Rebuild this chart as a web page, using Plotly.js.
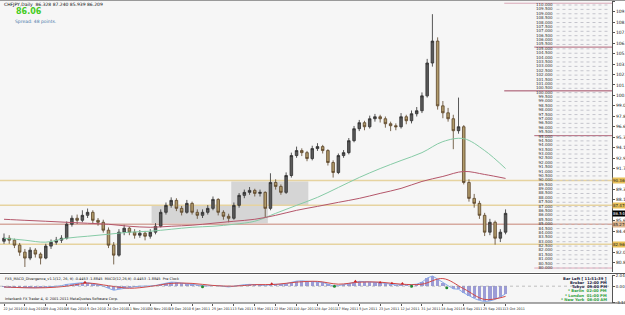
<!DOCTYPE html>
<html><head><meta charset="utf-8">
<script src="https://cdn.plot.ly/plotly-3.0.1.min.js"></script>
<style>html,body{margin:0;padding:0;background:#fff}#c{width:625px;height:315px}</style>
</head><body><div id="c"></div>
<script>
// ---- data (bar index: 1 unit = 1 daily bar, one candle every 4 bars) ----
const barIndex = [0,4,8,12,16,20,24,28,32,36,40,44,48,52,56,60,64,68,72,76,80,84,88,92,96,100,104,108,112,116,120,124,128,132,136,140,144,148,152,156,160,164,168,172,176,180,184,188,192,196,200,204,208,212,216,220,224,228,232,236,240,244,248,252,256,260,264,268,272,276,280,284,288,292,296,300,304,308,312,316,320,324,328,332,336,340,344,348,352,356,360,364,368,372,376,380,384];
const openP = [83.3,83.65,83.42,82.84,82.03,81.34,82.26,81.80,81.34,82.73,
  83.19,83.42,83.65,85.27,85.97,85.73,86.31,86.66,85.73,85.50,
  84.58,82.84,81.68,84.35,84.81,84.35,84.00,84.23,83.88,84.35,
  85.04,86.66,87.47,88.05,87.12,86.66,87.70,86.66,86.31,86.66,
  87.12,88.16,86.66,86.20,85.97,87.47,88.63,88.98,89.21,88.86,
  88.98,87.12,90.13,89.67,88.98,90.94,93.26,93.84,93.60,92.91,
  94.07,94.30,93.84,92.45,91.29,93.26,93.60,94.99,96.38,97.08,
  96.61,97.54,97.77,97.54,96.96,96.73,96.61,97.77,97.31,98.12,
  98.47,100.20,104.02,106.57,99.04,98.23,97.54,96.15,96.61,90.13,
  88.28,87.70,86.31,84.35,85.50,83.65,84.35];
const highP = [84.2,84.0,83.6,83.1,82.4,82.6,82.5,82.0,83.0,83.5,
  83.8,84.0,85.6,86.3,86.4,86.9,87.1,86.9,86.0,85.8,
  84.9,83.2,84.7,85.2,85.0,84.7,84.6,84.5,84.7,85.4,
  87.0,87.8,88.4,88.3,87.4,88.1,87.9,87.0,87.0,87.5,
  88.5,88.3,86.9,86.5,87.8,88.9,89.3,89.6,89.4,89.3,
  89.1,91.2,90.5,89.9,91.3,93.6,94.3,94.1,93.8,94.4,
  94.7,94.5,94.0,92.7,93.5,93.9,95.3,96.7,97.4,97.3,
  97.9,98.1,98.0,97.8,97.2,97.0,98.2,98.0,98.5,98.9,
  100.6,104.5,109.7,107.0,99.6,98.8,98.0,100.0,96.8,90.5,
  88.8,88.0,86.6,85.9,85.7,84.7,87.0];
const lowP = [83.0,83.0,82.5,81.6,80.3,81.1,81.4,80.6,81.2,82.4,
  82.9,83.1,83.5,85.0,85.3,85.5,86.0,85.4,85.1,84.3,
  82.5,80.6,81.5,84.0,84.0,83.6,83.7,83.4,83.6,84.1,
  84.9,86.4,87.2,86.8,86.3,86.5,86.4,85.9,86.0,86.4,
  86.9,86.3,85.8,85.5,85.8,87.2,88.3,88.7,88.5,88.5,
  86.1,86.9,89.3,88.7,88.8,90.7,93.0,93.2,92.6,92.7,
  93.8,93.5,92.1,90.7,91.1,93.0,93.4,94.8,96.1,96.2,
  96.4,97.2,97.1,96.5,96.1,96.2,96.4,96.9,97.0,97.8,
  98.2,100.0,103.6,98.6,97.6,97.2,94.0,95.8,89.9,87.9,
  87.2,85.9,83.9,84.0,82.9,83.2,84.1];
const closeP = [83.65,83.42,82.84,82.03,81.34,82.26,81.80,81.34,82.73,83.19,
  83.42,83.65,85.27,85.97,85.73,86.31,86.66,85.73,85.50,84.58,
  82.84,81.68,84.35,84.81,84.35,84.00,84.23,83.88,84.35,85.04,
  86.66,87.47,88.05,87.12,86.66,87.70,86.66,86.31,86.66,87.12,
  88.16,86.66,86.20,85.97,87.47,88.63,88.98,89.21,88.86,88.98,
  87.12,90.13,89.67,88.98,90.94,93.26,93.84,93.60,92.91,94.07,
  94.30,93.84,92.45,91.29,93.26,93.60,94.99,96.38,97.08,96.61,
  97.54,97.77,97.54,96.96,96.73,96.61,97.77,97.31,98.12,98.47,
  100.20,104.02,106.57,99.04,98.23,97.54,96.15,96.61,90.13,88.28,
  87.70,86.31,84.35,85.50,83.65,84.35,86.54];

const labelIndex = [0,16,32,48,64,80,96,112,128,144,160,176,192,208,224,240,256,272,288,304,320,336,352,368,384];
const dateLabels = ["22 Jul 2010","10 Aug 2010","29 Aug 2010","16 Sep 2010","5 Oct 2010","24 Oct 2010","11 Nov 2010","30 Nov 2010","19 Dec 2010","6 Jan 2011","25 Jan 2011","13 Feb 2011","3 Mar 2011","22 Mar 2011","10 Apr 2011","28 Apr 2011","17 May 2011","5 Jun 2011","23 Jun 2011","12 Jul 2011","31 Jul 2011","18 Aug 2011","6 Sep 2011","25 Sep 2011","13 Oct 2011"];

const maGreen = [83.65,83.42,83.19,83.65,83.88,84.11,84.35,84.46,84.69,84.92,85.04,85.27,85.62,86.54,87.47,88.40,89.55,90.71,91.75,92.68,93.60,94.88,95.22,93.84,91.75];
const maRed = [85.85,85.73,85.62,85.50,85.39,85.27,85.04,84.92,85.04,85.16,85.39,85.62,85.85,86.31,86.89,87.35,87.82,88.28,88.86,89.44,90.25,90.83,91.41,91.06,90.60];

const macdMain = [-0.2,-0.25,-0.3,-0.3,-0.35,-0.3,-0.3,-0.3,-0.2,-0.1,
  0.0,0.1,0.35,0.5,0.6,0.7,0.7,0.55,0.3,0.0,
  -0.4,-0.8,-0.6,-0.4,-0.2,-0.1,0.0,0.0,0.05,0.15,
  0.4,0.6,0.8,0.75,0.6,0.5,0.35,0.2,0.1,0.05,
  0.15,0.1,-0.05,-0.15,0.0,0.2,0.3,0.35,0.35,0.3,
  0.1,0.35,0.4,0.35,0.5,0.8,1.0,1.05,1.0,0.95,
  0.9,0.75,0.4,0.05,0.1,0.3,0.6,0.85,0.95,0.9,
  0.85,0.8,0.7,0.55,0.4,0.25,0.3,0.25,0.3,0.4,
  0.8,1.6,2.0,1.4,0.7,0.1,-0.5,-0.6,-1.3,-1.9,
  -2.4,-2.8,-3.0,-2.9,-2.6,-2.1,-1.5];
const macdSignal = [-0.15,-0.3,-0.3,0.0,0.6,0.1,-0.4,-0.05,0.55,0.55,0.15,0.0,0.3,0.35,0.8,0.95,0.4,0.8,0.8,0.4,0.4,1.5,-0.5,-2.6,-2.0];
const redMarkIdx = [62,205,269,288,297,305];
const redMarkVal = [0.8,0.5,0.95,0.75,0.6,0.55];
const greenMarkIdx = [152,253,312,339];
const greenMarkVal = [-0.1,0.0,0.0,-0.3];

// right-axis price labels (those hidden under the highlighted level boxes are left out)
const priceTicks = [79.6,80.815,82.03,84.46,85.675,88.105,89.32,91.75,92.965,94.18,95.395,96.61,97.825,99.04,100.255,101.47,102.685,103.9,105.115,106.33,107.545,108.76,109.975,111.19];
const ladder = [110,109.5,109,108.5,108,107.5,107,106.5,106,105.5,105,104.5,104,103.5,103,102.5,102,101.5,101,100.5,100,99.5,99,98.5,98,97.5,97,96.5,96,95.5,95,94.5,94,93.5,93,92.5,92,91.5,91,90.5,90,89.5,89,88.5,88,87.5,87,86.5,86,85.5,85,84.5,84,83.5,83,82.5,82,81.5,81,80.5,80];
const fullLevels = [90.36,87.47,85.27,82.96];
const fullLevelColors = ['#e6d3a0','#e6d3a0','#d6aaa0','#e6d3a0'];
const rightLevels = [110.97,105.87,100.78,95.57,80.18];
const rightLevelStart = [383,406,383,406,406];
const rightLevelColors = ['#d9a8b8','#b06478','#a04862','#b06478','#e2a8b8'];
const boxA = {x0:113, x1:202, y0:85.39, y1:87.47};
const boxB = {x0:174, x1:233, y0:87.47, y1:90.25};

// ---- geometry helpers ----
const W = 625, H = 315, ML = 0, MR = 13, MT = 1, MB = 12;
const PW = W - ML - MR, PH = H - MT - MB;
const px = x => (x - ML) / PW;
const py = y => (H - MB - y) / PH;
const XR = [-3.06, 465.5];

const traces = [];
traces.push({type:'candlestick', x:barIndex, open:openP, high:highP, low:lowP, close:closeP,
  xaxis:'x', yaxis:'y', hoverinfo:'skip',
  increasing:{line:{color:'#2e2e2e', width:0.8}, fillcolor:'#5a5a5a'},
  decreasing:{line:{color:'#5a4428', width:0.8}, fillcolor:'#b09a6a'},
  whiskerwidth:0});
traces.push({type:'scatter', mode:'lines', x:labelIndex, y:maGreen, line:{color:'#86cba6', width:1, shape:'spline'}, xaxis:'x', yaxis:'y', hoverinfo:'skip'});
traces.push({type:'scatter', mode:'lines', x:labelIndex, y:maRed, line:{color:'#b4566a', width:1, shape:'spline'}, xaxis:'x', yaxis:'y', hoverinfo:'skip'});
// ladder labels + dotted guide lines
const lx = [], ly = [];
ladder.forEach(v => { lx.push(423, 464, null); ly.push(v, v, null); });
traces.push({type:'scatter', mode:'lines', x:lx, y:ly, xaxis:'x', yaxis:'y3', line:{color:'#c4c4cc', width:1, dash:'dot'}, hoverinfo:'skip', connectgaps:false});
traces.push({type:'scatter', mode:'text', x:ladder.map(() => 420), y:ladder, text:ladder.map(v => v.toFixed(3)),
  textposition:'middle left', textfont:{size:4, color:'#333', family:'DejaVu Sans'}, xaxis:'x', yaxis:'y3', hoverinfo:'skip', cliponaxis:false});
// MACD
traces.push({type:'bar', x:barIndex, y:macdMain, width:2.6, marker:{color:'#9c9cd6', line:{width:0}}, xaxis:'x', yaxis:'y2', hoverinfo:'skip'});
traces.push({type:'scatter', mode:'lines', x:barIndex, y:macdMain, line:{color:'#86a8e8', width:1}, xaxis:'x', yaxis:'y2', hoverinfo:'skip'});
traces.push({type:'scatter', mode:'lines', x:labelIndex, y:macdSignal, line:{color:'#d04848', width:1, shape:'spline'}, xaxis:'x', yaxis:'y2', hoverinfo:'skip'});
traces.push({type:'scatter', mode:'markers', x:redMarkIdx, y:redMarkVal, marker:{color:'#cc2222', size:3, symbol:'triangle-up'}, xaxis:'x', yaxis:'y2', hoverinfo:'skip'});
traces.push({type:'scatter', mode:'markers', x:greenMarkIdx, y:greenMarkVal, marker:{color:'#208a30', size:3}, xaxis:'x', yaxis:'y2', hoverinfo:'skip'});

const shapes = [];
shapes.push({type:'rect', xref:'x', yref:'y', x0:boxA.x0, x1:boxA.x1, y0:boxA.y0, y1:boxA.y1, fillcolor:'#cfcfcf', opacity:0.85, line:{width:0}, layer:'below'});
shapes.push({type:'rect', xref:'x', yref:'y', x0:boxB.x0, x1:boxB.x1, y0:boxB.y0, y1:boxB.y1, fillcolor:'#cfcfcf', opacity:0.85, line:{width:0}, layer:'below'});
fullLevels.forEach((v,i) => shapes.push({type:'line', xref:'x', yref:'y', x0:XR[0], x1:XR[1], y0:v, y1:v, line:{color:fullLevelColors[i], width:1.5}, layer:'below'}));
rightLevels.forEach((v,i) => shapes.push({type:'line', xref:'x', yref:'y', x0:rightLevelStart[i], x1:XR[1], y0:v, y1:v, line:{color:rightLevelColors[i], width:1}, layer:'below'}));
shapes.push({type:'line', xref:'x', yref:'y2', x0:XR[0], x1:XR[1], y0:0, y1:0, line:{color:'#9a9a9a', width:0.6, dash:'dot'}});
// separator between panes and outer frame
shapes.push({type:'line', xref:'paper', yref:'paper', x0:0, x1:W/PW, y0:py(273.5), y1:py(273.5), line:{color:'#555', width:1}});
shapes.push({type:'line', xref:'paper', yref:'paper', x0:0, x1:W/PW, y0:py(0.5), y1:py(0.5), line:{color:'#999', width:1}});
shapes.push({type:'line', xref:'paper', yref:'paper', x0:0, x1:W/PW, y0:py(303), y1:py(303), line:{color:'#555', width:1}});

const ann = [];
const f = (s,c,b) => ({family:'DejaVu Sans', size:s, color:c||'#000', weight: b ? 'bold' : 'normal'});
ann.push({xref:'paper', yref:'paper', x:px(2), y:py(4), text:'CHFJPY,Daily  86.328 87.240 85.939 86.209', showarrow:false, xanchor:'left', yanchor:'middle', font:f(4.5,'#111')});
ann.push({xref:'paper', yref:'paper', x:px(14), y:py(12), text:'86.06', showarrow:false, xanchor:'left', yanchor:'middle', font:f(8,'#44cc22',true)});
ann.push({xref:'paper', yref:'paper', x:px(13), y:py(21), text:'Spread: 48 points.', showarrow:false, xanchor:'left', yanchor:'middle', font:f(4.5,'#4a78a8')});
ann.push({xref:'paper', yref:'paper', x:px(3), y:py(279), text:'FX5_MACD_Divergence_v1.1(12, 26, 9) -0.4453 -1.8845  MACD(12,26,9) -0.4453 -1.8845  Pre Clock', showarrow:false, xanchor:'left', yanchor:'middle', font:f(3.5,'#111')});
ann.push({xref:'paper', yref:'paper', x:px(3), y:py(299), text:'Interbank FX Trader 4, \u00a9 2001-2011 MetaQuotes Software Corp.', showarrow:false, xanchor:'left', yanchor:'middle', font:f(3.5,'#111')});
const clock = [['Bar Left [ 11:51:39 ]','#1a1a40'],['Broker  12:00 PM','#1a1a40'],['Tokyo  09:00 PM','#1a1a40'],['* Berlin  02:00 PM','#30a040'],['* London  01:00 PM','#30a040'],['* New York  08:00 AM','#30a040']];
clock.forEach((c,i) => ann.push({xref:'paper', yref:'paper', x:px(609), y:py(278 + i*4.3), text:c[0], showarrow:false, xanchor:'right', yanchor:'middle', font:f(3.8,c[1],true)}));
// price boxes on the right axis
fullLevels.forEach((v,i) => { if (i !== 2) ann.push({xref:'paper', yref:'y', x:1, y:v, text:v.toFixed(3), showarrow:false, xanchor:'left', yanchor:'middle', bgcolor:'#e8c058', borderpad:0, font:f(4,'#222')}); });
ann.push({xref:'paper', yref:'y', x:1, y:fullLevels[2], text:fullLevels[2].toFixed(3), showarrow:false, xanchor:'left', yanchor:'middle', bgcolor:'#e0b890', borderpad:0, font:f(4,'#222')});
ann.push({xref:'paper', yref:'y', x:1, y:closeP[closeP.length-1], text:closeP[closeP.length-1].toFixed(3), showarrow:false, xanchor:'left', yanchor:'middle', bgcolor:'#000', borderpad:0, font:f(4,'#fff')});

const layout = {
  width:W, height:H, margin:{l:ML, r:MR, t:MT, b:MB},
  paper_bgcolor:'#ffffff', plot_bgcolor:'#f6f6f6', showlegend:false,
  font:{family:'DejaVu Sans', size:4.5, color:'#111'},
  xaxis:{range:XR, anchor:'y2', tickvals:labelIndex, ticktext:dateLabels, tickfont:{size:3.4, color:'#222'}, tickangle:0,
    ticks:'outside', ticklen:2, tickcolor:'#555', ticklabelshift:9, showgrid:false, zeroline:false,
    rangeslider:{visible:false}, fixedrange:true},
  yaxis:{domain:[py(272), py(1)], range:[79.72, 111.23], side:'right', tickvals:priceTicks, ticktext:priceTicks.map(v => v.toFixed(3)),
    tickfont:{size:4.5, color:'#222'}, ticks:'outside', ticklen:2, tickcolor:'#555', showgrid:false, zeroline:false,
    showline:true, linecolor:'#555', linewidth:1},
  yaxis2:{domain:[0, py(275)], range:[-3.3, 2.2], side:'right', tickvals:[2.0444, 0, -3.139], ticktext:['2.0444','0.00','-3.1390'],
    tickfont:{size:4, color:'#222'}, ticks:'outside', ticklen:2, tickcolor:'#555', showgrid:false, zeroline:false,
    showline:true, linecolor:'#555', linewidth:1},
  yaxis3:{overlaying:'y', range:[79.544, 110.456], visible:false},
  shapes:shapes, annotations:ann, bargap:0
};
Plotly.newPlot('c', traces, layout, {staticPlot:true, displayModeBar:false});
</script></body></html>
